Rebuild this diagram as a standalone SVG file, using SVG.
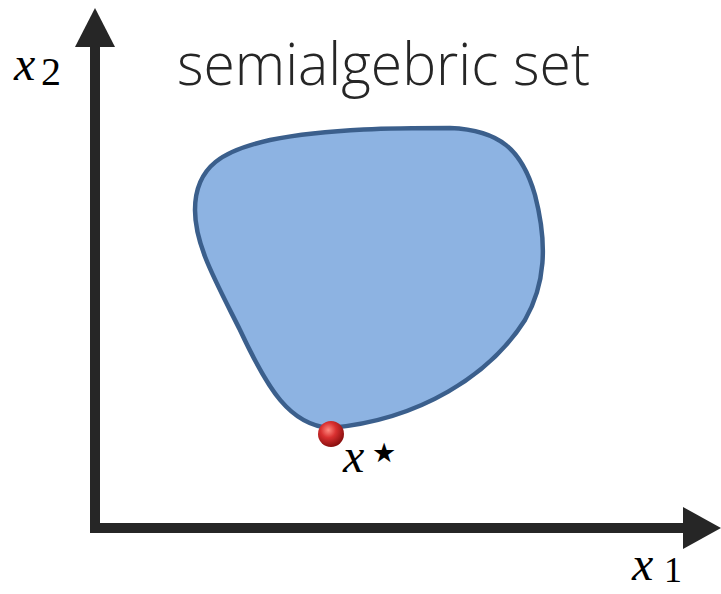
<svg xmlns="http://www.w3.org/2000/svg" width="721" height="594" viewBox="0 0 721 594">
<defs>
<radialGradient id="ball" cx="0.4" cy="0.35" r="0.65">
<stop offset="0" stop-color="#ff8a80"/>
<stop offset="0.45" stop-color="#d93030"/>
<stop offset="1" stop-color="#8a0f0f"/>
</radialGradient>
<style>
.axis{stroke:#262626;stroke-width:10;fill:none}
.head{fill:#262626}
</style>
</defs>
<rect width="721" height="594" fill="#fff"/>
<g id="axes">
<line class="axis" x1="95" y1="533" x2="95" y2="40"/>
<polygon class="head" points="95,8 75,47 115,47"/>
<line class="axis" x1="90" y1="528" x2="690" y2="528"/>
<polygon class="head" points="721,528 683,507 683,549"/>
</g>
<g id="set">
<path d="M 330,428 C 290,425 268,390 240,330 C 215,280 195,245 195,210 C 195,165 225,150 270,140 C 330,128 400,128 450,128 C 500,130 522,150 535,195 C 548,245 545,285 525,320 C 490,375 420,420 330,428 Z" fill="#8db3e2" stroke="#3b5f8c" stroke-width="4.5"/>
</g>
<g id="point">
<circle cx="331" cy="434" r="13" fill="url(#ball)"/>
</g>
<text x="177" y="85" font-family="'Open Sans','Noto Sans',sans-serif" font-weight="300" font-size="58" fill="#262626" textLength="413" lengthAdjust="spacingAndGlyphs">semialgebric set</text>
<text x="14" y="80" font-family="'Liberation Serif',serif" font-style="italic" font-size="48" fill="#000">x</text>
<text x="41" y="85" font-family="'Liberation Serif',serif" font-size="40" fill="#000">2</text>
<text x="632" y="580" font-family="'Liberation Serif',serif" font-style="italic" font-size="48" fill="#000">x</text>
<text x="664" y="582" font-family="'Liberation Serif',serif" font-size="36" fill="#000">1</text>
<text x="343" y="472" font-family="'Liberation Serif',serif" font-style="italic" font-size="48" fill="#000">x</text>
<text x="372" y="462" font-family="'DejaVu Sans',sans-serif" font-size="27" fill="#000">★</text>
</svg>
